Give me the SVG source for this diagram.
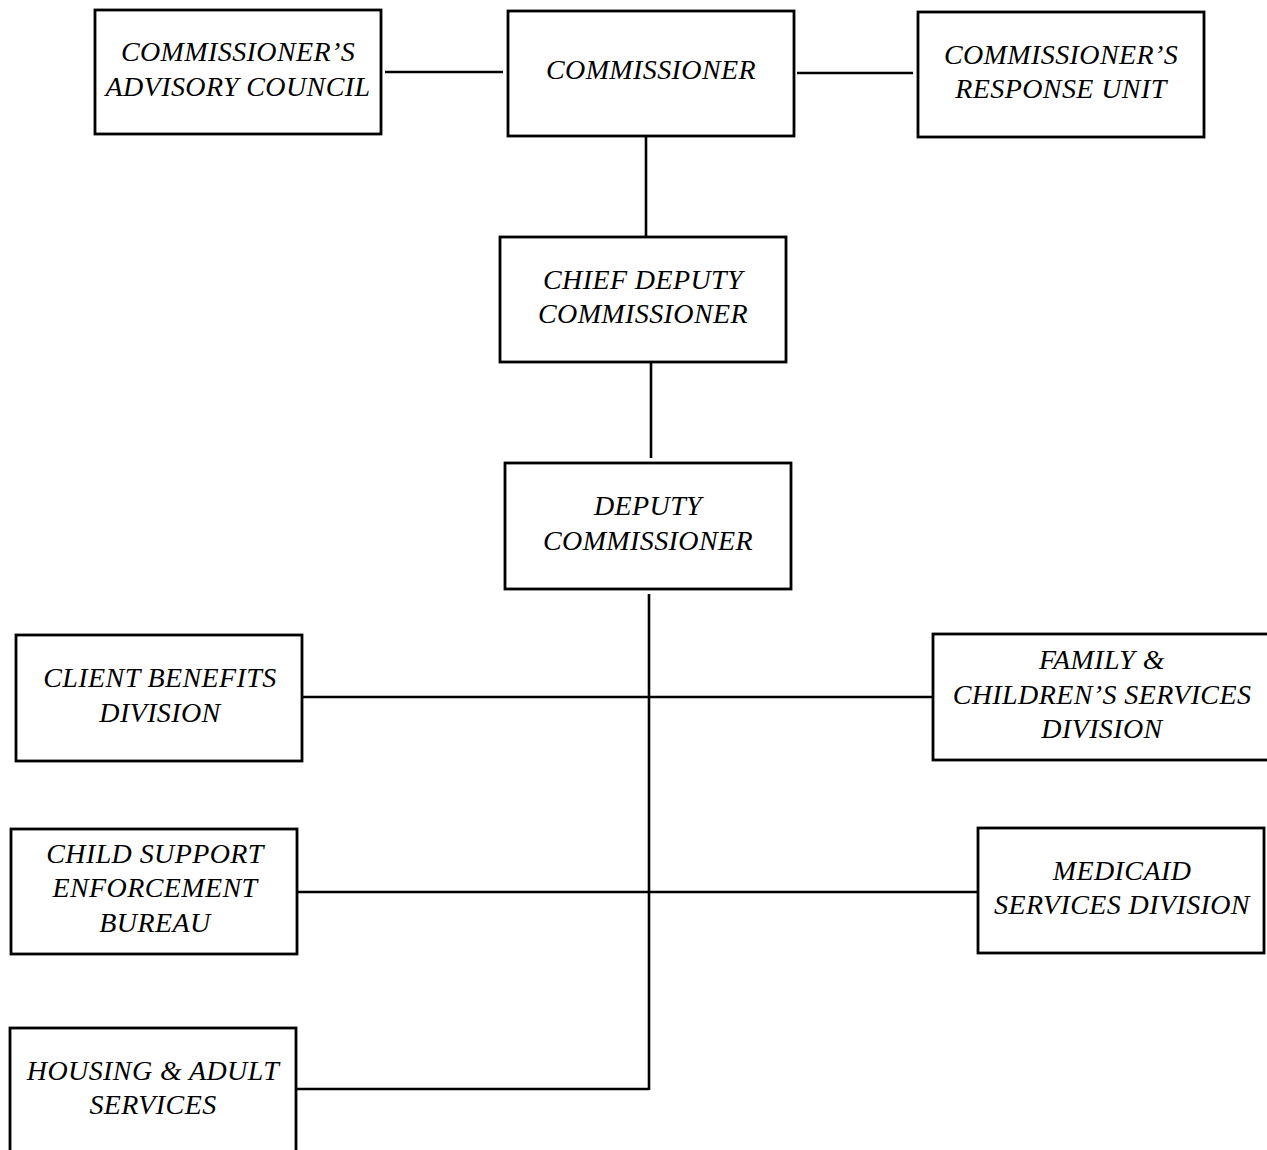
<svg xmlns="http://www.w3.org/2000/svg" width="1267" height="1150" viewBox="0 0 1267 1150">
<style>
.box{fill:#fff;stroke:#000;stroke-width:2.8}
.t{font-family:"Liberation Serif","Times New Roman",serif;font-style:italic;font-size:28px;letter-spacing:0.4px;fill:#000;text-anchor:middle}
.c{stroke:#000;stroke-width:2.6;fill:none}
</style>
<rect width="1267" height="1150" fill="#fff"/>
<g id="connectors">
<line class="c" x1="385" y1="72" x2="503" y2="72"/>
<line class="c" x1="797" y1="73" x2="913" y2="73"/>
<line class="c" x1="646" y1="136" x2="646" y2="237"/>
<line class="c" x1="651" y1="362" x2="651" y2="458"/>
<line class="c" x1="649" y1="594" x2="649" y2="1090"/>
<line class="c" x1="302" y1="697" x2="932" y2="697"/>
<line class="c" x1="297" y1="892" x2="977" y2="892"/>
<line class="c" x1="296" y1="1089" x2="649" y2="1089"/>
</g>
<g id="advisory">
<rect class="box" x="95" y="10" width="286" height="124"/>
<text class="t" x="238" y="61">COMMISSIONER’S</text>
<text class="t" x="238" y="96">ADVISORY COUNCIL</text>
</g>
<g id="commissioner">
<rect class="box" x="508" y="11" width="286" height="125"/>
<text class="t" x="651" y="79">COMMISSIONER</text>
</g>
<g id="response">
<rect class="box" x="918" y="12" width="286" height="125"/>
<text class="t" x="1061" y="64">COMMISSIONER’S</text>
<text class="t" x="1061" y="98">RESPONSE UNIT</text>
</g>
<g id="chief-deputy">
<rect class="box" x="500" y="237" width="286" height="125"/>
<text class="t" x="643" y="289">CHIEF DEPUTY</text>
<text class="t" x="643" y="323">COMMISSIONER</text>
</g>
<g id="deputy">
<rect class="box" x="505" y="463" width="286" height="126"/>
<text class="t" x="648" y="515">DEPUTY</text>
<text class="t" x="648" y="550">COMMISSIONER</text>
</g>
<g id="client-benefits">
<rect class="box" x="16" y="635" width="286" height="126"/>
<text class="t" x="160" y="687">CLIENT BENEFITS</text>
<text class="t" x="160" y="722">DIVISION</text>
</g>
<g id="family">
<rect class="box" x="933" y="634" width="340" height="126"/>
<text class="t" x="1102" y="669">FAMILY &amp;</text>
<text class="t" x="1102" y="704">CHILDREN’S SERVICES</text>
<text class="t" x="1102" y="738">DIVISION</text>
</g>
<g id="child-support">
<rect class="box" x="11" y="829" width="286" height="125"/>
<text class="t" x="155" y="863">CHILD SUPPORT</text>
<text class="t" x="155" y="897">ENFORCEMENT</text>
<text class="t" x="155" y="932">BUREAU</text>
</g>
<g id="medicaid">
<rect class="box" x="978" y="828" width="286" height="125"/>
<text class="t" x="1122" y="880">MEDICAID</text>
<text class="t" x="1122" y="914">SERVICES DIVISION</text>
</g>
<g id="housing">
<rect class="box" x="10" y="1028" width="286" height="140"/>
<text class="t" x="153" y="1080">HOUSING &amp; ADULT</text>
<text class="t" x="153" y="1114">SERVICES</text>
</g>
</svg>
